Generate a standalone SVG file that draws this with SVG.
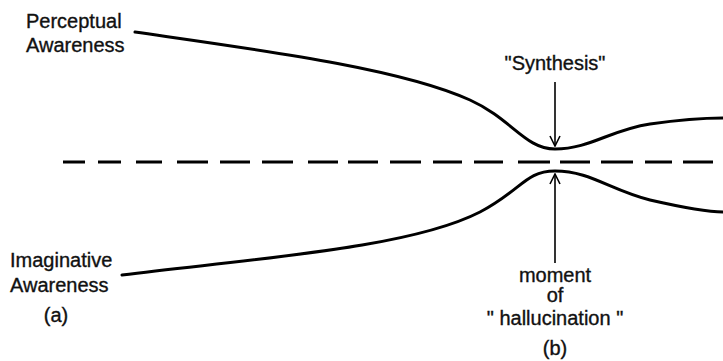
<svg xmlns="http://www.w3.org/2000/svg" width="723" height="361" viewBox="0 0 723 361">
<style>
.lbl{font-family:"Liberation Sans","DejaVu Sans",sans-serif;font-size:20px;fill:#111;stroke:#111;stroke-width:0.35}
.mid{text-anchor:middle}
.curve{fill:none;stroke:#000;stroke-width:3;stroke-linecap:round}
.dash{fill:none;stroke:#000;stroke-width:3}
.arr{fill:none;stroke:#000;stroke-width:1.6}
</style>
<defs>
<marker id="ah" viewBox="0 0 12 12" refX="11" refY="6" markerWidth="12" markerHeight="12" markerUnits="userSpaceOnUse" orient="auto">
<path d="M1,1 L11,6 L1,11" fill="none" stroke="#000" stroke-width="1.6"/>
</marker>
</defs>
<rect width="723" height="361" fill="#fff"/>
<g id="connectors">
<path id="perceptual-curve" class="curve" d="M135,32 C260,50 400,68 470,100 C512,119 525,149 555,149 C590,149 610,130 650,124 C685,119 710,118 723,118"/>
<path id="imaginative-curve" class="curve" d="M122,275 C260,258 410,248 480,212 C522,190 525,171 555,171 C590,171 610,190 650,200 C685,208 710,212 723,212"/>
<path id="threshold" class="dash" d="M63,162H85M98,162H121M136,162H162M177,162H208M220,162H250M262,162H293M308,162H338M348,162H378M390,162H421M433,162H462M474,162H503M518,162H550M560,162H590M601,162H633M645,162H672M683,162H713"/>
<line id="synthesis-arrow" class="arr" x1="555" y1="82" x2="555" y2="146" marker-end="url(#ah)"/>
<line id="hallucination-arrow" class="arr" x1="555" y1="263" x2="555" y2="174" marker-end="url(#ah)"/>
</g>
<g id="perceptual-label">
<text class="lbl" x="26" y="28">Perceptual</text>
<text class="lbl" x="26" y="52">Awareness</text>
</g>
<g id="imaginative-label">
<text class="lbl" x="10" y="267">Imaginative</text>
<text class="lbl" x="10" y="292">Awareness</text>
<text class="lbl" x="56" y="322" text-anchor="middle">(a)</text>
</g>
<g id="synthesis-label">
<text class="lbl mid" x="555" y="70">"Synthesis"</text>
</g>
<g id="hallucination-label">
<text class="lbl mid" x="555" y="282">moment</text>
<text class="lbl mid" x="555" y="302">of</text>
<text class="lbl mid" x="555" y="325">" hallucination "</text>
<text class="lbl mid" x="555" y="355">(b)</text>
</g>
</svg>
